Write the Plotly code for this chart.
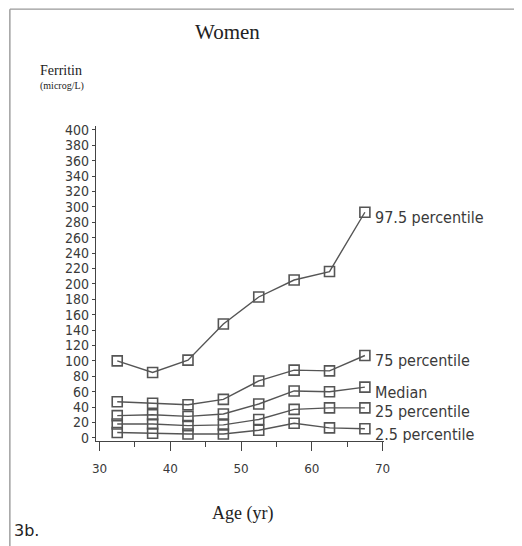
import plotly.graph_objects as go

ages = [32.5, 37.5, 42.5, 47.5, 52.5, 57.5, 62.5, 67.5]
p975 = [100, 85, 101, 148, 183, 205, 216, 293]
p75 = [47, 45, 43, 50, 74, 88, 87, 107]
median = [29, 30, 28, 31, 44, 61, 60, 66]
p25 = [18, 18, 16, 17, 24, 37, 39, 39]
p025 = [7, 6, 5, 5, 10, 19, 13, 12]

series_names = ["97.5 percentile", "75 percentile", "Median", "25 percentile", "2.5 percentile"]
series_values = [p975, p75, median, p25, p025]
label_shift = [-5, -5, -5, -4, -6]

y_ticks = list(range(0, 401, 20))
x_ticks = [30, 40, 50, 60, 70]

line_col = "#555555"
text_col = "#3a3a3a"
sans_c = "DejaVu Sans Condensed, Liberation Sans Narrow, DejaVu Sans, sans-serif"
sans = "DejaVu Sans, sans-serif"
serif = "Liberation Serif, DejaVu Serif, serif"

fig = go.Figure()
for name, vals in zip(series_names, series_values):
    fig.add_trace(go.Scatter(
        x=ages, y=vals, mode="lines+markers", name=name,
        line=dict(color=line_col, width=1.4),
        marker=dict(symbol="square-open", size=10, color=line_col,
                    line=dict(width=1.6, color=line_col)),
        showlegend=False, hoverinfo="skip"))

for name, vals, sh in zip(series_names, series_values, label_shift):
    fig.add_annotation(x=ages[-1], y=vals[-1], text=name, showarrow=False,
                       xanchor="left", yanchor="middle", xshift=8, yshift=sh,
                       font=dict(family=sans_c, size=16, color=text_col))

fig.add_annotation(xref="paper", yref="paper", x=0.458, y=1.298, yanchor="middle",
                   text="Women", showarrow=False,
                   font=dict(family=serif, size=21, color="#222"))
fig.add_annotation(xref="paper", yref="paper", x=-0.201, xanchor="left", y=1.176,
                   yanchor="middle", text="Ferritin", showarrow=False,
                   font=dict(family=serif, size=14, color="#222"))
fig.add_annotation(xref="paper", yref="paper", x=-0.201, xanchor="left", y=1.127,
                   yanchor="middle", text="(microg/L)", showarrow=False,
                   font=dict(family=serif, size=10, color="#222"))
fig.add_annotation(xref="paper", yref="paper", x=0.51, y=-0.229, yanchor="middle",
                   text="Age (yr)", showarrow=False,
                   font=dict(family=serif, size=18, color="#222"))
fig.add_annotation(xref="paper", yref="paper", x=-0.29, xanchor="left", y=-0.283,
                   yanchor="middle", text="3b.", showarrow=False,
                   font=dict(family=sans, size=16, color="#222"))

# frame around the figure
fig.add_shape(type="line", xref="paper", yref="paper", x0=-0.299, x1=-0.299, y0=1.371, y1=-0.333,
              line=dict(color="#888", width=1.2))
fig.add_shape(type="line", xref="paper", yref="paper", x0=-0.299, x1=1.472, y0=1.371, y1=1.371,
              line=dict(color="#999", width=1.2))

fig.update_xaxes(range=[29.5, 70.2], tickvals=x_ticks, ticktext=[str(t) for t in x_ticks],
                 showgrid=False, zeroline=False, showline=True, linecolor="#444", linewidth=1.3,
                 ticks="outside", ticklen=9, tickwidth=1.2, tickcolor="#444",
                 ticklabelstandoff=7,
                 minor=dict(tickvals=[35, 45, 55, 65], ticklen=5, ticks="outside",
                            tickcolor="#444", tickwidth=1.2),
                 tickfont=dict(family=sans, size=12, color=text_col))
fig.update_yaxes(range=[-4, 405], tickvals=y_ticks, ticktext=[str(t) for t in y_ticks],
                 showgrid=False, zeroline=False, showline=True, linecolor="#444", linewidth=1.3,
                 ticks="outside", ticklen=3, tickwidth=1.2, tickcolor="#444",
                 tickfont=dict(family=sans_c, size=14, color=text_col))

fig.update_layout(width=514, height=538, plot_bgcolor="white", paper_bgcolor="white",
                  margin=dict(l=88, r=138, t=118, b=105))
fig.write_html("out.html")
